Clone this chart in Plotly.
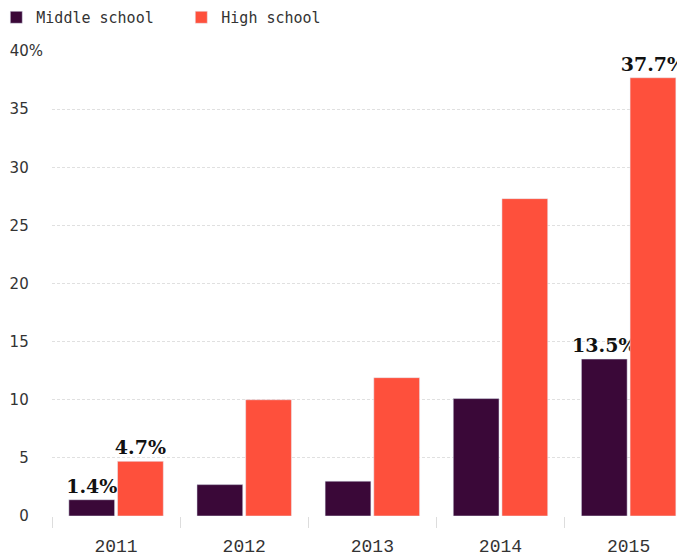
import plotly.graph_objects as go

years = ["2011", "2012", "2013", "2014", "2015"]
middle = [1.4, 2.7, 3.0, 10.1, 13.5]
high = [4.7, 10.0, 11.9, 27.3, 37.7]
middle_labels = ["1.4%", "", "", "", "13.5%"]
high_labels = ["4.7%", "", "", "", "37.7%"]
ytick_vals = [0, 5, 10, 15, 20, 25, 30, 35, 40]
ytick_text = ["0", "5", "10", "15", "20", "25", "30", "35", "40%"]

label_font = dict(family="DejaVu Serif, serif", size=19, color="#111111")

fig = go.Figure()
fig.add_trace(go.Bar(
    x=years, y=middle, name="Middle school", marker_color="#3a0838",
    text=middle_labels, textposition="outside", textfont=label_font,
    constraintext="none", cliponaxis=False, texttemplate="<b>%{text}</b>",
))
fig.add_trace(go.Bar(
    x=years, y=high, name="High school", marker_color="#fe503c",
    text=high_labels, textposition="outside", textfont=label_font,
    constraintext="none", cliponaxis=False, texttemplate="<b>%{text}</b>",
))

pad = "\u00a0\u00a0\u00a0"
fig.update_layout(
    width=677, height=548,
    margin=dict(l=44, r=0, t=43, b=40, autoexpand=False),
    plot_bgcolor="white", paper_bgcolor="white",
    barmode="group", bargap=0.24, bargroupgap=0.06,
    showlegend=True,
    legend=dict(
        orientation="h", x=-0.088, xanchor="left", y=1.072, yanchor="middle",
        font=dict(family="DejaVu Sans Mono, monospace", size=15, color="#333333"),
        entrywidth=140, entrywidthmode="pixels",
        itemclick=False,
    ),
    xaxis=dict(
        range=[-0.5, 4.44], tickson="boundaries", ticks="outside", ticklen=11,
        tickcolor="#dddddd", tickwidth=1, showline=False, showgrid=False,
        tickfont=dict(family="Liberation Mono, DejaVu Sans Mono, monospace", size=18, color="#333333"),
        ticklabelstandoff=17, fixedrange=True, automargin=False,
    ),
    yaxis=dict(
        range=[0, 40], tickvals=ytick_vals,
        ticktext=[t if t.endswith("%") else t + pad for t in ytick_text],
        showgrid=True, gridcolor="#e0e0e0", griddash="3px,2px", gridwidth=1,
        zeroline=False, showline=False, ticks="",
        tickfont=dict(family="DejaVu Sans, sans-serif", size=15, color="#333333"),
        ticklabelstandoff=8, fixedrange=True, automargin=False,
    ),
)

fig.write_html("out.html")
